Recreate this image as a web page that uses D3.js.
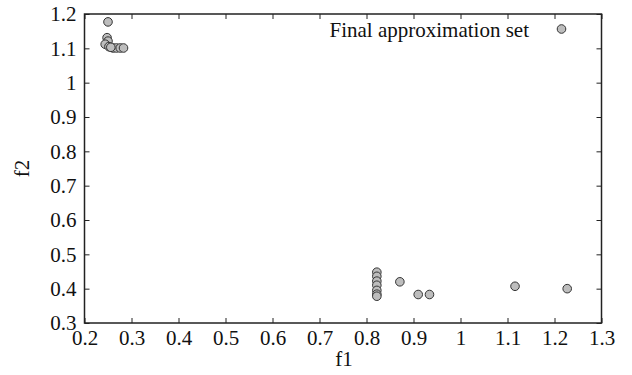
<!DOCTYPE html>
<html>
<head>
<meta charset="utf-8">
<script src="https://cdn.jsdelivr.net/npm/d3@7"></script>
<style>
  html, body { margin: 0; padding: 0; background: #fff; }
</style>
</head>
<body>
<svg id="chart" width="632" height="375"></svg>
<script>
// Final approximation set: objective values (f1, f2)
const f1Values = [
  0.250, 0.248, 0.250, 0.244, 0.252, 0.261, 0.268, 0.276, 0.283, 0.256,
  0.822, 0.822, 0.822, 0.822, 0.822, 0.822, 0.822,
  0.871, 0.910, 0.934, 1.116, 1.227
];
const f2Values = [
  1.177, 1.131, 1.121, 1.112, 1.105, 1.101, 1.101, 1.101, 1.101, 1.103,
  0.448, 0.436, 0.422, 0.410, 0.395, 0.384, 0.378,
  0.420, 0.383, 0.383, 0.407, 0.400
];
const xTicks = [0.2, 0.3, 0.4, 0.5, 0.6, 0.7, 0.8, 0.9, 1.0, 1.1, 1.2, 1.3];
const yTicks = [0.3, 0.4, 0.5, 0.6, 0.7, 0.8, 0.9, 1.0, 1.1, 1.2];
const legendLabel = "Final approximation set";

const FONT = "'Liberation Serif', 'Times New Roman', serif";
const svg = d3.select("#chart");
const plotLeft = 84.5, plotRight = 601.5, plotTop = 14, plotBottom = 323;

const x = d3.scaleLinear().domain([0.2, 1.3]).range([plotLeft, plotRight]);
const y = d3.scaleLinear().domain([0.3, 1.2]).range([plotBottom, plotTop]);
const fmt = d => String(+d.toFixed(1));
const tickLen = 5;

// Bottom axis: inward ticks with labels
const bottomAxis = svg.append("g")
  .attr("transform", `translate(0,${plotBottom})`)
  .call(d3.axisBottom(x).tickValues(xTicks).tickSizeInner(-tickLen).tickSizeOuter(0).tickPadding(9).tickFormat(fmt));
bottomAxis.attr("font-family", FONT).attr("font-size", 21);
bottomAxis.selectAll("text").attr("fill", "#111").attr("dy", "0.62em");

// Left axis: inward ticks with labels
const leftAxis = svg.append("g")
  .attr("transform", `translate(${plotLeft},0)`)
  .call(d3.axisLeft(y).tickValues(yTicks).tickSizeInner(-tickLen).tickSizeOuter(0).tickPadding(8).tickFormat(fmt));
leftAxis.attr("font-family", FONT).attr("font-size", 21);
leftAxis.selectAll("text").attr("fill", "#111").attr("dy", "0.33em");

// Mirrored ticks on top and right, no labels
svg.append("g")
  .attr("transform", `translate(0,${plotTop})`)
  .call(d3.axisTop(x).tickValues(xTicks).tickSizeInner(-tickLen).tickSizeOuter(0).tickFormat(""));
svg.append("g")
  .attr("transform", `translate(${plotRight},0)`)
  .call(d3.axisRight(y).tickValues(yTicks).tickSizeInner(-tickLen).tickSizeOuter(0).tickFormat(""));

svg.selectAll(".domain").remove();
svg.selectAll(".tick line").attr("stroke", "#222").attr("stroke-width", 1);

// Plot border
svg.append("rect")
  .attr("x", plotLeft).attr("y", plotTop)
  .attr("width", plotRight - plotLeft).attr("height", plotBottom - plotTop)
  .attr("fill", "none").attr("stroke", "#222").attr("stroke-width", 1.5);

// Axis titles
svg.append("text")
  .attr("x", 344).attr("y", 366)
  .attr("text-anchor", "middle").attr("font-size", 21)
  .attr("font-family", FONT).attr("fill", "#111")
  .text("f1");
svg.append("text")
  .attr("transform", `translate(29,${(plotTop + plotBottom) / 2}) rotate(-90)`)
  .attr("text-anchor", "middle").attr("font-size", 21)
  .attr("font-family", FONT).attr("fill", "#111")
  .text("f2");

// Points
const pts = f1Values.map((v, i) => ({ f1: v, f2: f2Values[i] }));
svg.append("g").selectAll("circle")
  .data(pts)
  .join("circle")
  .attr("cx", d => x(d.f1))
  .attr("cy", d => y(d.f2))
  .attr("r", 4.3)
  .attr("fill", "#bdbdbd")
  .attr("stroke", "#333")
  .attr("stroke-width", 1);

// Legend: label with sample marker to its right
svg.append("text")
  .attr("x", 529).attr("y", 37)
  .attr("text-anchor", "end").attr("font-size", 21)
  .attr("font-family", FONT).attr("fill", "#111")
  .text(legendLabel);
svg.append("circle")
  .attr("cx", 561.5).attr("cy", 29)
  .attr("r", 4.3)
  .attr("fill", "#bdbdbd")
  .attr("stroke", "#333")
  .attr("stroke-width", 1);
</script>
</body>
</html>
